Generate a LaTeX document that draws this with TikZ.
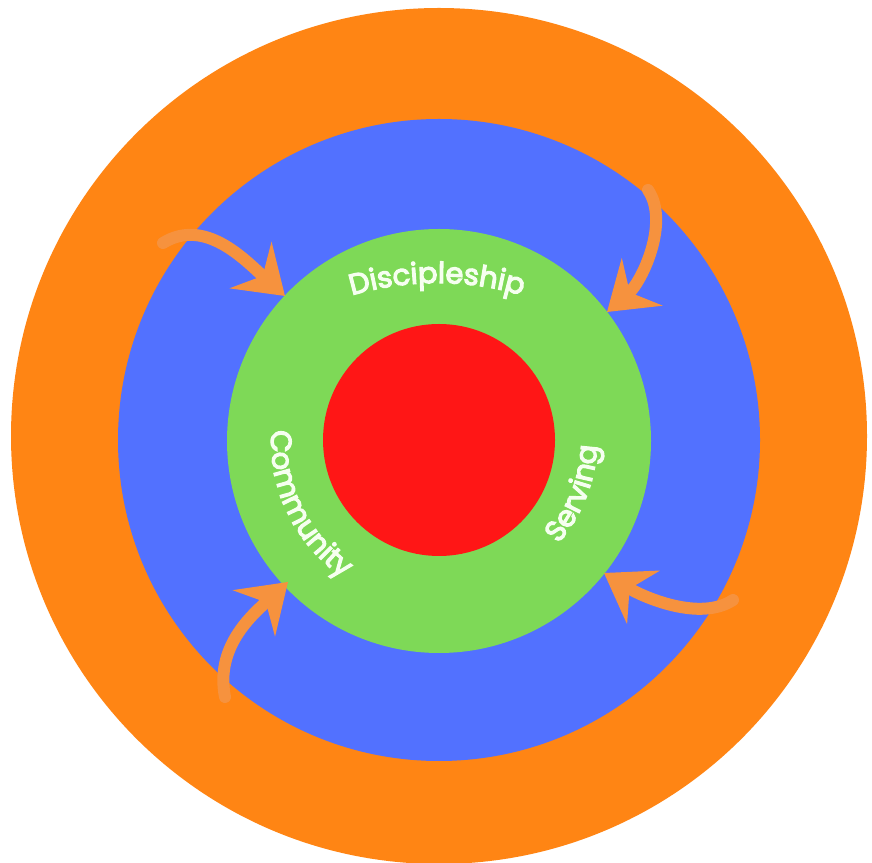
\documentclass[tikz,border=0pt]{standalone}
\usepackage{fontspec}
\setmainfont{Poppins}
\newfontfamily\lblfont{Poppins}[FakeBold=4]
\usetikzlibrary{decorations.text, arrows.meta, calc}
\definecolor{ringorange}{RGB}{255,133,20}
\definecolor{ringblue}{RGB}{82,113,255}
\definecolor{ringgreen}{RGB}{126,217,87}
\definecolor{ringred}{RGB}{255,22,22}
\definecolor{arrowor}{RGB}{246,146,62}
\definecolor{lbltext}{RGB}{246,255,240}
\begin{document}
\begin{tikzpicture}[x=1pt,y=1pt,
  ring/.style={circle, inner sep=0pt, draw=none, minimum size=#1},
  curvearrow/.style={draw=arrowor, line width=12pt, line cap=round,
    -{Stealth[length=46pt,width=62pt,inset=16pt]}},
  ringtext/.style={decorate, decoration={text along path, text align=center,
    text color=lbltext, text={|\fontsize{29}{29}\selectfont\lblfont|#1}}}
]
\useasboundingbox (0,0) rectangle (872,862);
\fill[white] (0,0) rectangle (872,862);
\node[ring=856pt, fill=ringorange] (outer) at (439,426) {};
\node[ring=642pt, fill=ringblue] (mid) at (439,422) {};
\node[ring=424pt, fill=ringgreen] (inner) at (439,421) {};
\node[ring=232pt, fill=ringred] (core) at (439,422) {};
\coordinate (cc) at (439,422);
\coordinate (dc) at (437,279);
% curved labels
\path[ringtext={Discipleship}] ($(dc)+(122:300)$) arc[start angle=122, end angle=58, radius=300];
\path[ringtext={Community}] ($(cc)+(150:168)$) arc[start angle=150, end angle=262, radius=168];
\path[ringtext={Serving}] ($(cc)+(-62:158)$) arc[start angle=-62, end angle=19, radius=158];
% arrows
\coordinate (a1s) at (163,619); \coordinate (a1e) at (285,566);
\coordinate (a2s) at (648,672); \coordinate (a2e) at (607,550);
\coordinate (a3s) at (733,262); \coordinate (a3e) at (604,289);
\coordinate (a4s) at (225,165); \coordinate (a4e) at (288,280);
\draw[curvearrow] (a1s) .. controls (205,645) and (245,602) .. (a1e);
\draw[curvearrow] (a2s) .. controls (670,640) and (642,580) .. (a2e);
\draw[curvearrow] (a3s) .. controls (700,240) and (643,265) .. (a3e);
\draw[curvearrow] (a4s) .. controls (215,215) and (252,247) .. (a4e);
\end{tikzpicture}
\end{document}
